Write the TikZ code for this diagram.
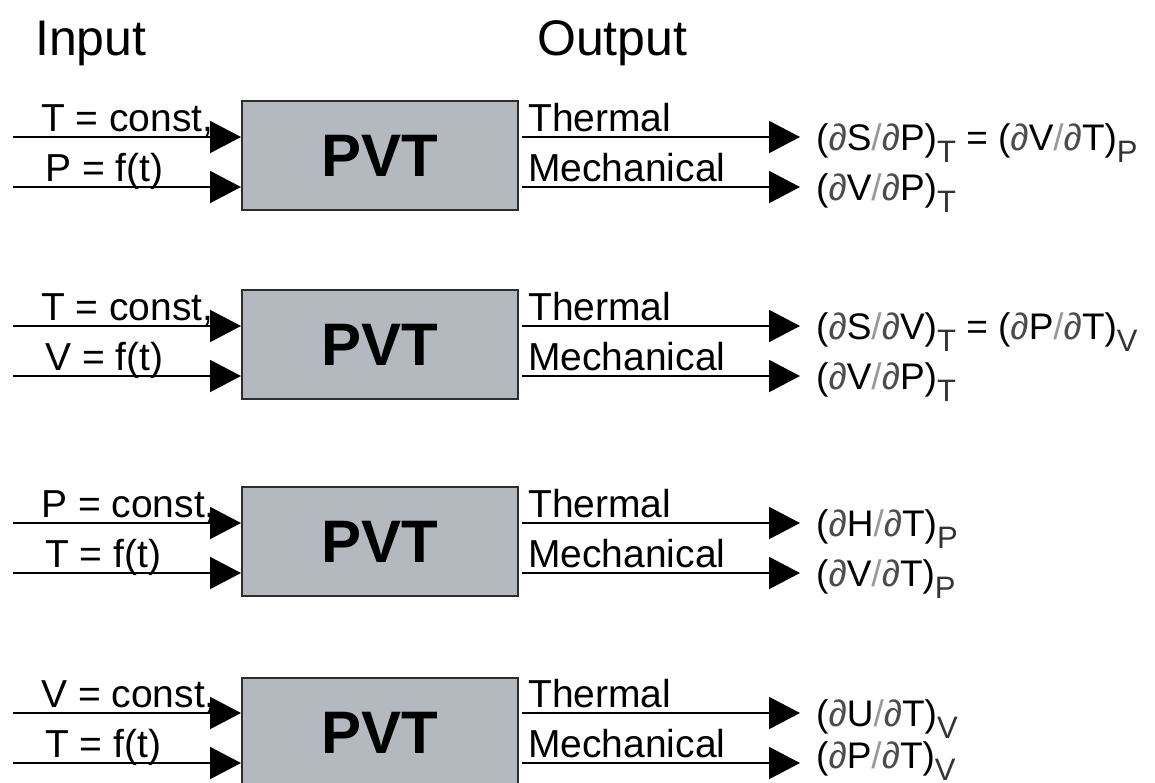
\documentclass[tikz,border=0pt]{standalone}
\usepackage{fontspec}
\setmainfont{Liberation Sans}
\usetikzlibrary{arrows.meta,positioning}
\definecolor{pvtfill}{RGB}{180,185,192}
\definecolor{pvtedge}{RGB}{45,45,45}
\newcommand{\pdiff}{{\color{black!70}∂}}
\newcommand{\pslash}{{\color{black!40}/}}
\newcommand{\psub}[1]{\raisebox{-12pt}{\fontsize{31}{31}\selectfont\color{black!80}#1}}

\begin{document}
\begin{tikzpicture}[x=1pt, y=-1pt,
    pvtbox/.style={rectangle, draw=pvtedge, fill=pvtfill, line width=2pt, minimum width=276pt, minimum height=109pt, anchor=north west, inner sep=0pt, font=\fontsize{60}{60}\selectfont\bfseries},
    lbl/.style={anchor=base west, inner sep=0pt, font=\fontsize{39}{45}\selectfont},
    outtext/.style={anchor=base west, inner sep=0pt, font=\fontsize{37}{43}\selectfont},
    heading/.style={anchor=base west, inner sep=0pt, font=\fontsize{50}{55}\selectfont},
    flow/.style={line width=2pt, -{Triangle[length=31pt,width=32pt]}}]
        \useasboundingbox (0,0) rectangle (1155,782);

        \node[heading] (input) at (35,55) {Input};
        \node[heading] (output) at (537,55) {Output};

        % first block
        \node[pvtbox] (pvt1) at (241,100) {PVT};
        \coordinate (in1a) at (13,137);
        \coordinate (in1b) at (13,187);
        \coordinate (out1a) at (522,137);
        \coordinate (out1b) at (522,187);
        \node[lbl] (cst1) at (41,131) {T = const,};
        \node[lbl] (var1) at (45,181) {P = f(t)};
        \node[lbl] (thl1) at (528,131) {Thermal};
        \node[lbl] (mel1) at (528,181) {Mechanical};
        \node[outtext] (th1) at (816,150) {(\pdiff S\pslash\pdiff P)\psub{T} = (\pdiff V\pslash\pdiff T)\psub{P}};
        \node[outtext] (me1) at (816,200) {(\pdiff V\pslash\pdiff P)\psub{T}};
        \draw[flow] (in1a) -- (in1a -| pvt1.west);
        \draw[flow] (in1b) -- (in1b -| pvt1.west);
        \draw[flow] (out1a) -- ([xshift=-16pt]th1.west |- out1a);
        \draw[flow] (out1b) -- ([xshift=-16pt]me1.west |- out1b);

        % second block
        \node[pvtbox] (pvt2) at (241,289) {PVT};
        \coordinate (in2a) at (13,326);
        \coordinate (in2b) at (13,376);
        \coordinate (out2a) at (522,326);
        \coordinate (out2b) at (522,376);
        \node[lbl] (cst2) at (41,320) {T = const,};
        \node[lbl] (var2) at (45,370) {V = f(t)};
        \node[lbl] (thl2) at (528,320) {Thermal};
        \node[lbl] (mel2) at (528,370) {Mechanical};
        \node[outtext] (th2) at (816,339) {(\pdiff S\pslash\pdiff V)\psub{T} = (\pdiff P\pslash\pdiff T)\psub{V}};
        \node[outtext] (me2) at (816,389) {(\pdiff V\pslash\pdiff P)\psub{T}};
        \draw[flow] (in2a) -- (in2a -| pvt2.west);
        \draw[flow] (in2b) -- (in2b -| pvt2.west);
        \draw[flow] (out2a) -- ([xshift=-16pt]th2.west |- out2a);
        \draw[flow] (out2b) -- ([xshift=-16pt]me2.west |- out2b);

        % third block
        \node[pvtbox] (pvt3) at (241,486) {PVT};
        \coordinate (in3a) at (13,523);
        \coordinate (in3b) at (13,573);
        \coordinate (out3a) at (522,523);
        \coordinate (out3b) at (522,573);
        \node[lbl] (cst3) at (41,517) {P = const,};
        \node[lbl] (var3) at (45,567) {T = f(t)};
        \node[lbl] (thl3) at (528,517) {Thermal};
        \node[lbl] (mel3) at (528,567) {Mechanical};
        \node[outtext] (th3) at (816,536) {(\pdiff H\pslash\pdiff T)\psub{P}};
        \node[outtext] (me3) at (816,586) {(\pdiff V\pslash\pdiff T)\psub{P}};
        \draw[flow] (in3a) -- (in3a -| pvt3.west);
        \draw[flow] (in3b) -- (in3b -| pvt3.west);
        \draw[flow] (out3a) -- ([xshift=-16pt]th3.west |- out3a);
        \draw[flow] (out3b) -- ([xshift=-16pt]me3.west |- out3b);

        % fourth block
        \node[pvtbox] (pvt4) at (241,677) {PVT};
        \coordinate (in4a) at (13,713);
        \coordinate (in4b) at (13,763);
        \coordinate (out4a) at (522,713);
        \coordinate (out4b) at (522,763);
        \node[lbl] (cst4) at (41,707) {V = const,};
        \node[lbl] (var4) at (45,757) {T = f(t)};
        \node[lbl] (thl4) at (528,707) {Thermal};
        \node[lbl] (mel4) at (528,757) {Mechanical};
        \node[outtext] (th4) at (816,726) {(\pdiff U\pslash\pdiff T)\psub{V}};
        \node[outtext] (me4) at (816,768) {(\pdiff P\pslash\pdiff T)\psub{V}};
        \draw[flow] (in4a) -- (in4a -| pvt4.west);
        \draw[flow] (in4b) -- (in4b -| pvt4.west);
        \draw[flow] (out4a) -- ([xshift=-16pt]th4.west |- out4a);
        \draw[flow] (out4b) -- ([xshift=-16pt]me4.west |- out4b);
      \end{tikzpicture}
\end{document}
